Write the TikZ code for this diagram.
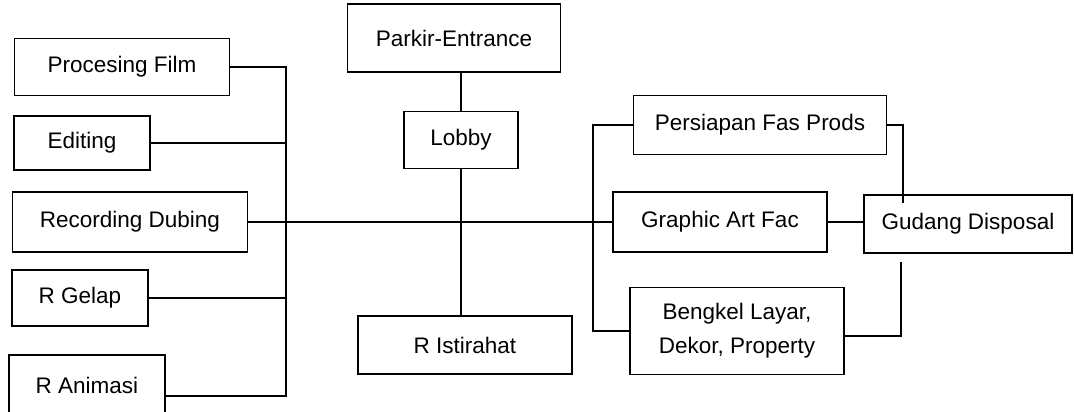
\documentclass[tikz,border=0pt]{standalone}
\usepackage{fontspec}
\setmainfont{Liberation Sans}
\begin{document}
\begin{tikzpicture}[
  room/.style={draw, line width=1.5pt, inner sep=0pt, align=center,
    font=\fontsize{22.5}{34}\selectfont},
  link/.style={line width=1.5pt}]
  \clip (0pt, 0pt) rectangle (1074pt, -412pt);

  \node[room, minimum width=215pt, minimum height=57pt] (procfilm) at (122pt,  -67pt) {Procesing Film};
  \node[room, minimum width=136pt, minimum height=54pt] (editing)  at ( 82pt, -143pt) {Editing};
  \node[room, minimum width=235pt, minimum height=60pt] (recdub)   at (130pt, -222pt) {Recording Dubing};
  \node[room, minimum width=136pt, minimum height=56pt] (rgelap)   at ( 80pt, -298pt) {R Gelap};
  \node[room, minimum width=156pt, minimum height=60pt] (ranim)    at ( 87pt, -385pt) {R Animasi};

  \node[room, minimum width=213pt, minimum height=68pt] (parkir)    at (454pt,  -38pt) {Parkir-Entrance};
  \node[room, minimum width=114pt, minimum height=57pt] (lobby)     at (461pt, -140pt) {Lobby};
  \node[room, minimum width=214pt, minimum height=58pt] (istirahat) at (465pt, -345pt) {R Istirahat};

  \node[room, minimum width=253pt, minimum height=59pt] (persiapan) at (760pt, -125pt) {Persiapan Fas Prods};
  \node[room, minimum width=214pt, minimum height=60pt] (graphic)   at (720pt, -222pt) {Graphic Art Fac};
  \node[room, minimum width=208pt, minimum height=58pt] (gudang)    at (968pt, -224pt) {Gudang Disposal};
  \node[room, minimum width=214pt, minimum height=87pt] (bengkel)   at (737pt, -331pt) {Bengkel Layar,\\ Dekor, Property};

  \coordinate (busl) at (286pt, 0pt);
  \coordinate (animout) at ([yshift=-11pt]ranim.east);
  \draw[link] (procfilm.east) -| (busl |- animout) -- (animout);
  \draw[link] (editing.east) -- (editing.east -| busl);
  \draw[link] (rgelap.east) -- (rgelap.east -| busl);
  \draw[link] (recdub.east) -- (graphic.west);

  \draw[link] (lobby.north |- parkir.south) -- (lobby.north);
  \draw[link] (lobby.south) -- (lobby.south |- istirahat.north);

  \coordinate (busr) at (593pt, 0pt);
  \coordinate (pfdrop) at (903pt, -203pt);
  \coordinate (bkrise) at (901pt, -262pt);
  \draw[link] (persiapan.west) -| (busr |- bengkel.west) -- (bengkel.west);
  \draw[link] (persiapan.east) -| (pfdrop);
  \draw[link] ([yshift=-5pt]bengkel.east) -| (bkrise);
  \draw[link] (graphic.east) -- (graphic.east -| gudang.west);
\end{tikzpicture}
\end{document}
